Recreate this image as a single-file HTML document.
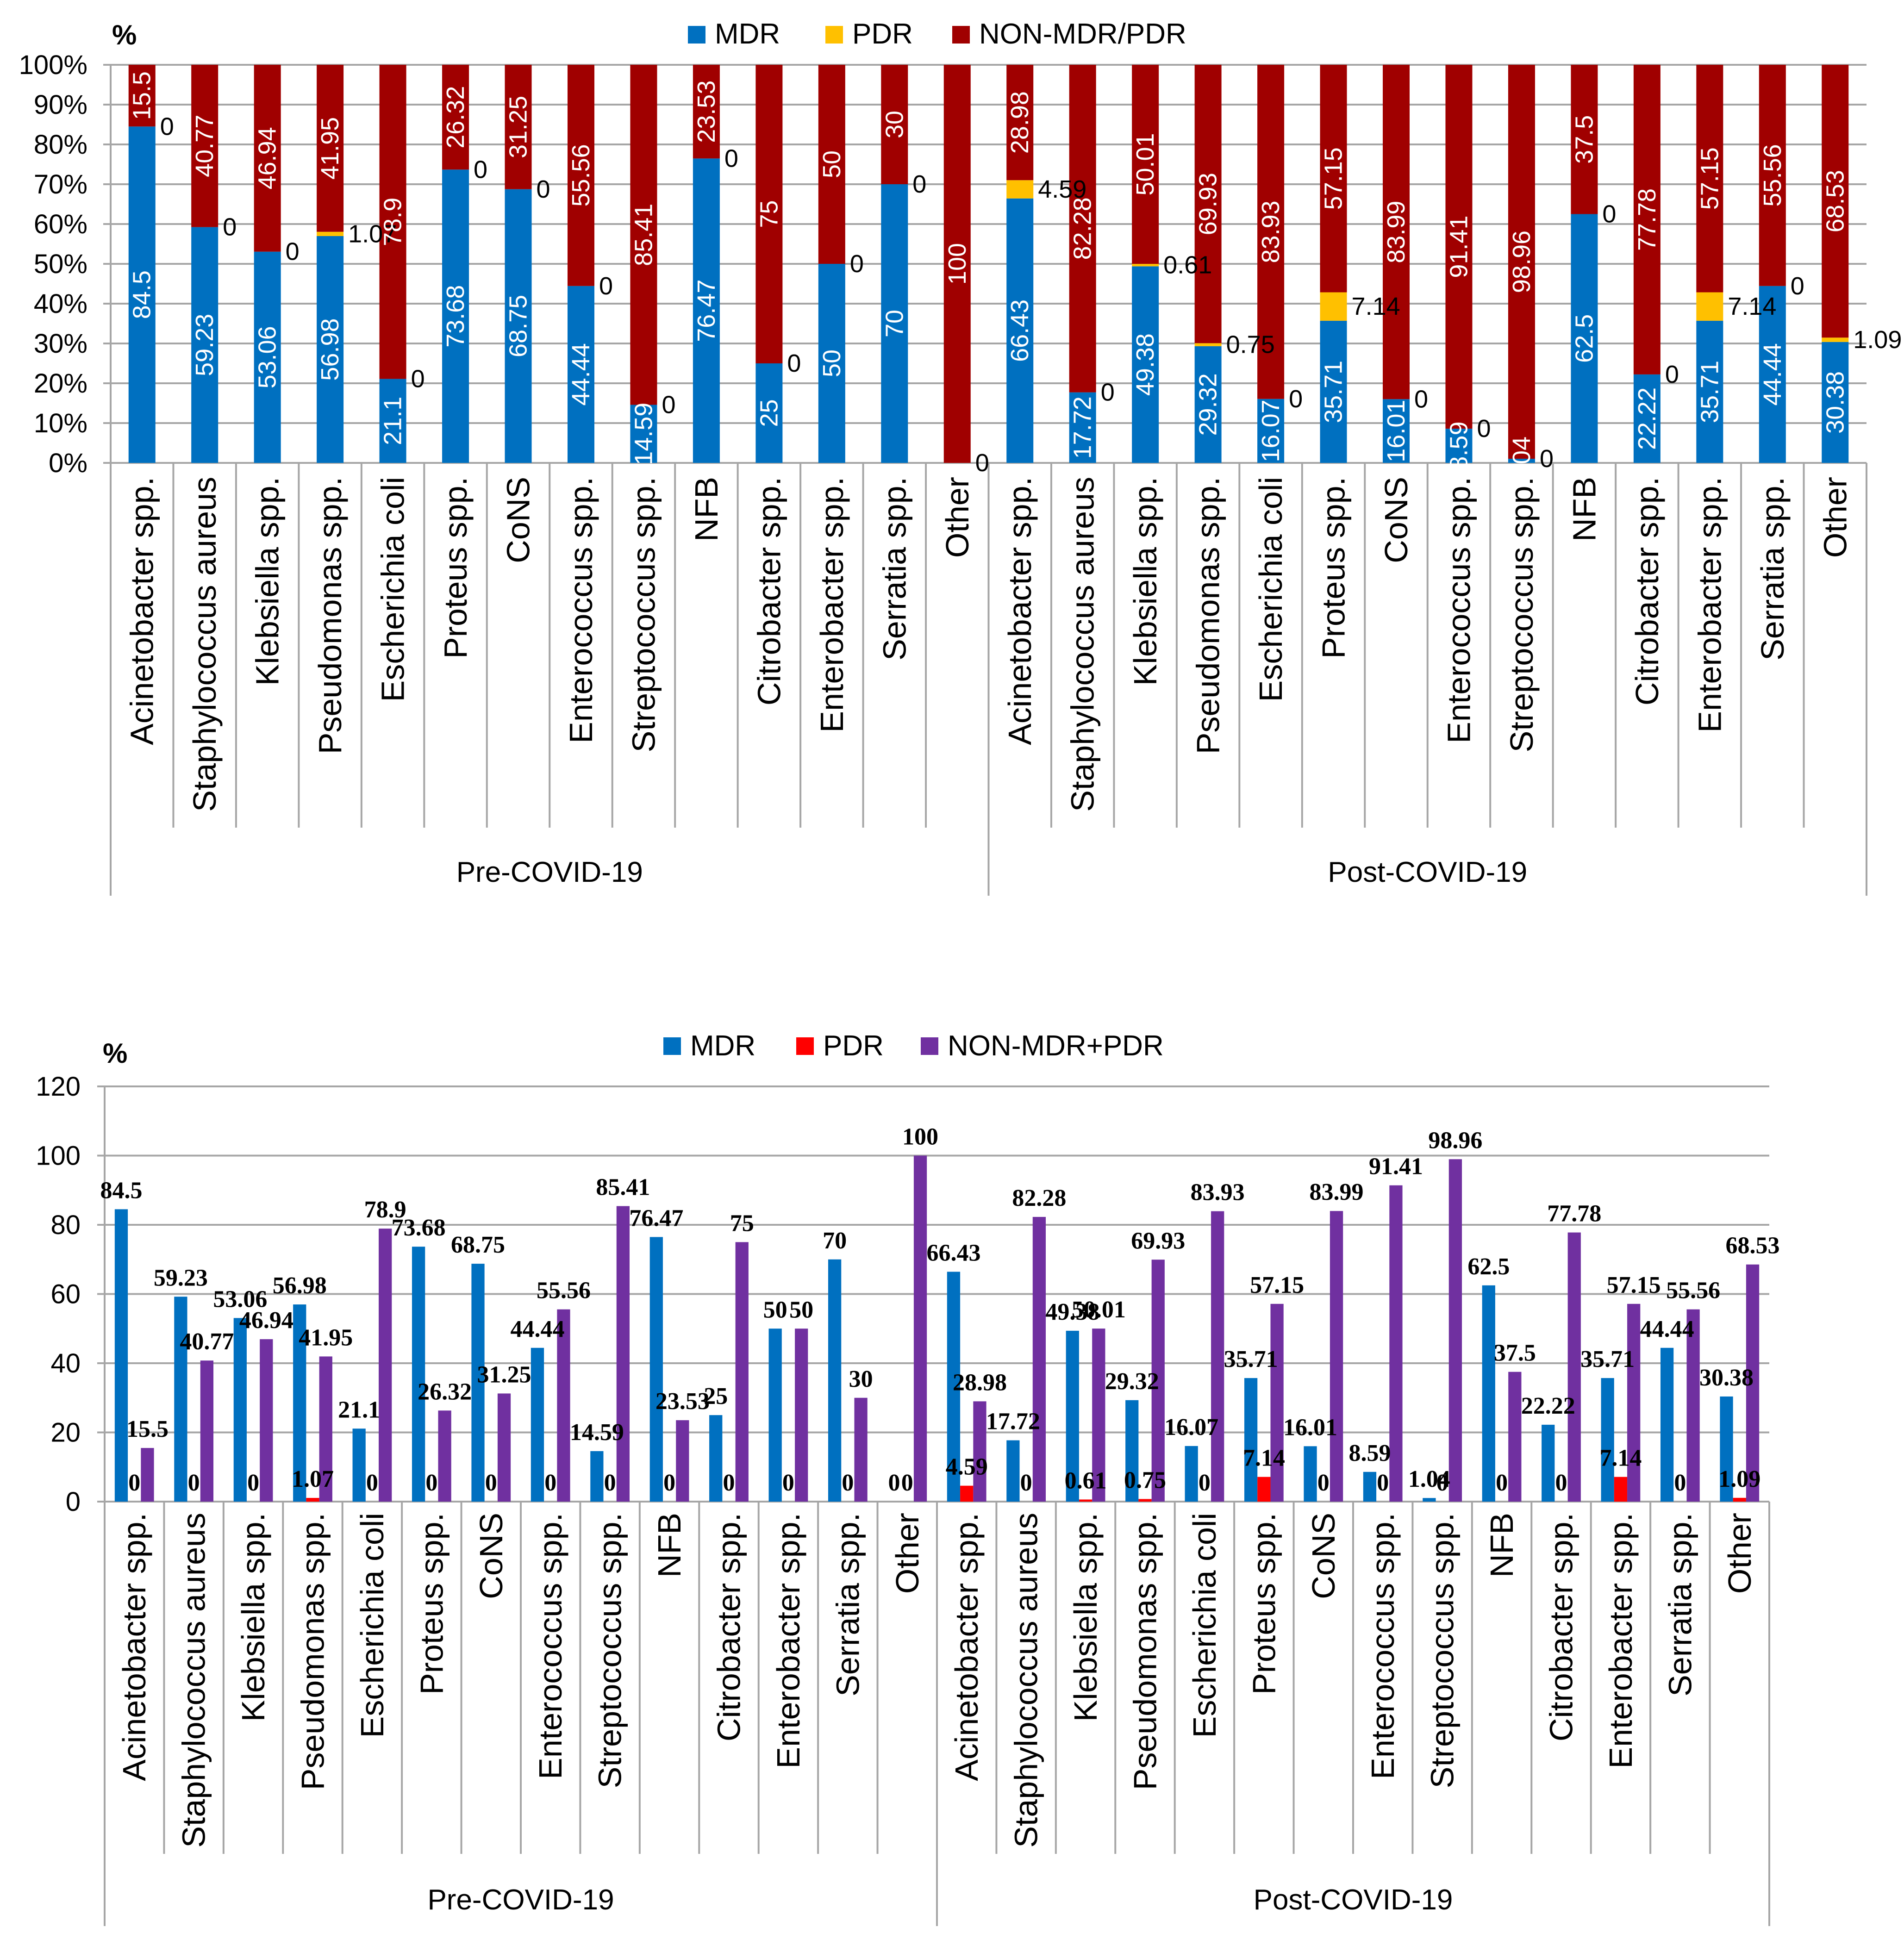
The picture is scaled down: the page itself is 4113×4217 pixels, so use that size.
<!DOCTYPE html>
<html><head><meta charset="utf-8"><style>
html,body{margin:0;padding:0;background:#fff;}
svg{display:block;}
</style></head><body>
<svg id="c" width="4113" height="4217" viewBox="0 0 4113 4217" xmlns="http://www.w3.org/2000/svg" font-family="'Liberation Sans', sans-serif"></svg>
<script>
const categories = ["Acinetobacter spp.","Staphylococcus aureus","Klebsiella spp.","Pseudomonas spp.","Escherichia coli","Proteus spp.","CoNS","Enterococcus spp.","Streptococcus spp.","NFB","Citrobacter spp.","Enterobacter spp.","Serratia spp.","Other"];
const groups = ["Pre-COVID-19","Post-COVID-19"];
const mdrPre = [84.5,59.23,53.06,56.98,21.1,73.68,68.75,44.44,14.59,76.47,25,50,70,0];
const pdrPre = [0,0,0,1.07,0,0,0,0,0,0,0,0,0,0];
const nonPre = [15.5,40.77,46.94,41.95,78.9,26.32,31.25,55.56,85.41,23.53,75,50,30,100];
const mdrPost = [66.43,17.72,49.38,29.32,16.07,35.71,16.01,8.59,1.04,62.5,22.22,35.71,44.44,30.38];
const pdrPost = [4.59,0,0.61,0.75,0,7.14,0,0,0,0,0,7.14,0,1.09];
const nonPost = [28.98,82.28,50.01,69.93,83.93,57.15,83.99,91.41,98.96,37.5,77.78,57.15,55.56,68.53];
const topTicks = ["0%","10%","20%","30%","40%","50%","60%","70%","80%","90%","100%"];
const botTicks = ["0","20","40","60","80","100","120"];

const svg = document.getElementById('c');
const NS = "http://www.w3.org/2000/svg";
function mk(tag, attrs, text){
  const e = document.createElementNS(NS, tag);
  for (const k in attrs) e.setAttribute(k, attrs[k]);
  if (text !== undefined) e.textContent = text;
  svg.appendChild(e);
  return e;
}
const allCats = categories.concat(categories);
const MDR = mdrPre.concat(mdrPost), PDR = pdrPre.concat(pdrPost), NON = nonPre.concat(nonPost);
const N = allCats.length;

/* ---------- TOP CHART ---------- */
(function(){
  const L=239, R=4032, Y0=1000, Y1=140;
  const step=(R-L)/N;
  const y = v => Y0 - (v/100)*(Y0-Y1);
  const x = i => L + i*step;
  topTicks.forEach((t,i)=>{
    const v=i*10;
    const g=mk('line',{x1:L-16,x2:R,y1:y(v),y2:y(v),stroke:'#a6a6a6','stroke-width':4});
    
    
    const tx=mk('text',{x:L-50,y:y(v)+20,'text-anchor':'end','font-size':58,fill:'#000'},t);
    
    
  });
  const ax=mk('line',{x1:L,x2:L,y1:Y1,y2:1935,stroke:'#a6a6a6','stroke-width':4});
  
  
  for(let i=0;i<=N;i++){
    const isG = (i%14===0);
    const ln=mk('line',{x1:x(i),x2:x(i),y1:Y0,y2:isG?1935:1788,stroke:'#a6a6a6','stroke-width':4});
    
    
  }
  const bw=58;
  for(let i=0;i<N;i++){
    const cx=x(i)+step/2, bx=cx-bw/2;
    const m=MDR[i], p=PDR[i], n=NON[i];
    const r1=mk('rect',{x:bx,y:y(m),width:bw,height:y(0)-y(m),fill:'#0070C0'});
    
    
    const r2=mk('rect',{x:bx,y:y(m+p),width:bw,height:y(m)-y(m+p),fill:'#FFC000'});
    
    
    const r3=mk('rect',{x:bx,y:y(m+p+n),width:bw,height:y(m+p)-y(m+p+n),fill:'#A00000'});
    
    
    const lx=cx+24, ly=Y0+30;
    const cl=mk('text',{x:lx,y:ly,transform:`rotate(-90 ${lx} ${ly})`,'text-anchor':'end','font-size':70,fill:'#000'},allCats[i]);
    
    
  }
  for(let i=0;i<N;i++){
    const cx=x(i)+step/2, bx=cx-bw/2;
    const m=MDR[i], p=PDR[i], n=NON[i];
    if(m>0){
      const my=(y(0)+y(m))/2;
      const t=mk('text',{x:cx+18,y:my,transform:`rotate(-90 ${cx+18} ${my})`,'text-anchor':'middle','font-size':54,fill:'#fff'},String(m));
      
      
    }
    const ny=(y(m+p)+y(m+p+n))/2;
    const t2=mk('text',{x:cx+18,y:ny,transform:`rotate(-90 ${cx+18} ${ny})`,'text-anchor':'middle','font-size':54,fill:'#fff'},String(n));
    
    
    const py=(y(m)+y(m+p))/2;
    const t3=mk('text',{x:bx+bw+10,y:py+18,'font-size':54,fill:'#000'},String(p));
    
    
  }
  groups.forEach((g,k)=>{
    const gt=mk('text',{x:x(k*14+7),y:1905,'text-anchor':'middle','font-size':62,fill:'#000'},g);
    
    
  });
  const pc=mk('text',{x:242,y:96,'font-size':60,'font-weight':'bold',fill:'#000'},'%');
  
  
  const leg=[['MDR','#0070C0',1486],['PDR','#FFC000',1783],['NON-MDR/PDR','#A00000',2057]];
  leg.forEach(l=>{
    const s=mk('rect',{x:l[2],y:56,width:38,height:38,fill:l[1]});
    
    
    const t=mk('text',{x:l[2]+58,y:94,'font-size':62,fill:'#000'},l[0]);
    
    
  });
})();

/* ---------- BOTTOM CHART ---------- */
(function(){
  const L=226, R=3822, Y0=3244, Y1=2347;
  const step=(R-L)/N;
  const y = v => Y0 - (v/120)*(Y0-Y1);
  const x = i => L + i*step;
  botTicks.forEach(t=>{
    const v=+t;
    const g=mk('line',{x1:L-16,x2:R,y1:y(v),y2:y(v),stroke:'#a6a6a6','stroke-width':4});
    
    
    const tx=mk('text',{x:L-52,y:y(v)+20,'text-anchor':'end','font-size':58,fill:'#000'},t);
    
    
  });
  const ax=mk('line',{x1:L,x2:L,y1:Y1,y2:4161,stroke:'#a6a6a6','stroke-width':4});
  
  
  for(let i=0;i<=N;i++){
    const isG=(i%14===0);
    const ln=mk('line',{x1:x(i),x2:x(i),y1:Y0,y2:isG?4161:4005,stroke:'#a6a6a6','stroke-width':4});
    
    
  }
  const bw=step*0.22;
  const series=[[MDR,'#0070C0','bottom-bar-mdr',0.17],[PDR,'#FF0000','bottom-bar-pdr',0.39],[NON,'#7030A0','bottom-bar-non-mdr-pdr',0.61]];
  for(let i=0;i<N;i++){
    series.forEach(s=>{
      const v=s[0][i];
      const bx=x(i)+s[3]*step;
      const r=mk('rect',{x:bx,y:y(v),width:bw,height:y(0)-y(v),fill:s[1]});
      
      
    });
    const cx=x(i)+step/2+24, ly=Y0+24;
    const cl=mk('text',{x:cx,y:ly,transform:`rotate(-90 ${cx} ${ly})`,'text-anchor':'end','font-size':70,fill:'#000'},allCats[i]);
    
    
  }
  for(let i=0;i<N;i++){
    series.forEach(s=>{
      const v=s[0][i];
      const bx=x(i)+s[3]*step;
      const t=mk('text',{x:bx+bw/2,y:y(v)-24,'text-anchor':'middle','font-size':52,'font-weight':'bold','font-family':"'Liberation Serif', serif",fill:'#000'},String(v));
      
      
    });
  }
  groups.forEach((g,k)=>{
    const gt=mk('text',{x:x(k*14+7),y:4125,'text-anchor':'middle','font-size':62,fill:'#000'},g);
    
    
  });
  const pc=mk('text',{x:222,y:2296,'font-size':60,'font-weight':'bold',fill:'#000'},'%');
  
  
  const leg=[['MDR','#0070C0',1433],['PDR','#FF0000',1720],['NON-MDR+PDR','#7030A0',1989]];
  leg.forEach(l=>{
    const s=mk('rect',{x:l[2],y:2241,width:38,height:38,fill:l[1]});
    
    
    const t=mk('text',{x:l[2]+58,y:2280,'font-size':62,fill:'#000'},l[0]);
    
    
  });
})();
</script>
</body></html>
